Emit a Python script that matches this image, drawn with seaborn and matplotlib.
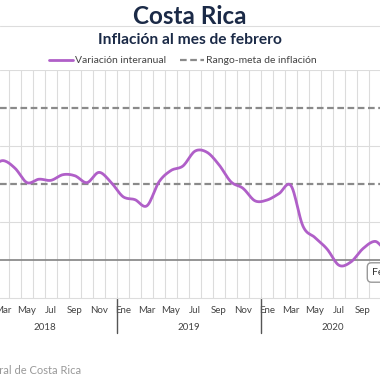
import numpy as np
import pandas as pd
import matplotlib
matplotlib.use("Agg")
import matplotlib.pyplot as plt
import seaborn as sns
from matplotlib.lines import Line2D
from matplotlib import transforms

# ---------------- data ----------------
month_abbr = ["Ene", "Feb", "Mar", "Abr", "May", "Jun",
              "Jul", "Ago", "Sep", "Oct", "Nov", "Dic"]
years = ["2018", "2019", "2020"]
infl_2018 = [2.50, 2.45, 2.61, 2.41, 2.03, 2.12, 2.09, 2.24, 2.21, 2.03, 2.30, 2.04]
infl_2019 = [1.66, 1.58, 1.42, 2.05, 2.35, 2.47, 2.86, 2.83, 2.50, 2.05, 1.88, 1.55]
infl_2020 = [1.57, 1.74, 1.95, 0.88, 0.58, 0.28, -0.15, -0.06, 0.29, 0.48, 0.30, 0.89]
infl_2021 = [0.55, 0.61]
target_low = 2.0
target_high = 4.0

values = infl_2018 + infl_2019 + infl_2020 + infl_2021
t_pos = np.arange(len(values)) + 0.5
df = pd.DataFrame({"t": t_pos, "v": values})

# smooth (Catmull-Rom) rendering of the monthly series
def smooth(x, y, n=12):
    xs, ys = [], []
    m = len(y)
    for i in range(m - 1):
        p0 = y[max(i - 1, 0)]; p1 = y[i]; p2 = y[i + 1]; p3 = y[min(i + 2, m - 1)]
        s = np.linspace(0, 1, n, endpoint=False)
        ys.extend(0.5 * (2 * p1 + (-p0 + p2) * s + (2 * p0 - 5 * p1 + 4 * p2 - p3) * s ** 2
                         + (-p0 + 3 * p1 - 3 * p2 + p3) * s ** 3))
        xs.extend(x[i] + (x[i + 1] - x[i]) * s)
    xs.append(x[-1]); ys.append(y[-1])
    return pd.DataFrame({"t": xs, "v": ys})

sm = smooth(df["t"].to_numpy(), df["v"].to_numpy())

# ---------------- style ----------------
sns.set_style("white")
plt.rcParams["font.family"] = ["Lato", "DejaVu Sans"]

W = H = 380.0
fig = plt.figure(figsize=(3.8, 3.8), dpi=100)
bottom_px, top_px = 297.5, 70.0
ax = fig.add_axes([0, 1 - bottom_px / H, 1, (bottom_px - top_px) / H])
x0 = 2.25
x1 = x0 + W / 12.0

purple = "#b05fc8"
sns.lineplot(data=sm, x="t", y="v", color=purple, lw=2.0, ax=ax,
             sort=False, estimator=None, zorder=3)

grid_c = "#dcdcdc"
for x in range(2, 35):
    ax.axvline(x, color=grid_c, lw=0.8, zorder=0)
for y in [1, 3, 5]:
    ax.axhline(y, color=grid_c, lw=0.8, zorder=0)
ax.axhline(0, color="#8c8c8c", lw=1.3, zorder=1)
for y in [target_low, target_high]:
    ax.axhline(y, color="#8a8a8a", lw=1.6, dashes=(3, 1.6), zorder=1)

for sp in ["top", "left", "right"]:
    ax.spines[sp].set_visible(False)
ax.spines["bottom"].set_color("#dddddd")
ax.spines["bottom"].set_linewidth(0.8)
ax.set_xlabel("")
ax.set_ylabel("")
ax.set_yticks([])

tick_idx = [i for i in range(0, 38, 2) if x0 <= i + 0.5 <= x1]
ax.set_xticks([i + 0.5 for i in tick_idx])
ax.set_xticklabels([month_abbr[i % 12] for i in tick_idx])
ax.tick_params(axis="x", length=0, pad=6.0, labelsize=7, labelcolor="#444444")

ax.set_xlim(x0, x1)
ax.set_ylim(-1, 5)

blend = transforms.blended_transform_factory(ax.transData, ax.transAxes)
ah = bottom_px - top_px
for k, yr in enumerate(years):
    ax.text(12 * k + 6, -(327 - bottom_px) / ah, yr, transform=blend,
            ha="center", va="center", fontsize=7, color="#444444", clip_on=False)
for k in range(1, 3):
    ax.plot([12 * k, 12 * k], [0, -(333 - bottom_px) / ah], transform=blend,
            color="#555555", lw=1.0, clip_on=False)

# titles
navy = "#1b2a47"
fig.text(0.5, 1 - 16 / H, "Costa Rica", ha="center", va="center",
         fontsize=17.5, fontweight="bold", color=navy)
fig.add_artist(Line2D([0, 1], [1 - 25.5 / H, 1 - 25.5 / H], transform=fig.transFigure,
                      color="#dddddd", lw=0.8))
fig.text(190 / W, 1 - 39.5 / H, "Inflación al mes de febrero", ha="center", va="center",
         fontsize=11.2, fontweight="bold", color=navy)

# legend
handles = [Line2D([], [], color=purple, lw=2.0),
           Line2D([], [], color="#8a8a8a", lw=1.6, dashes=(3, 1.6))]
fig.legend(handles, ["Variación interanual", "Rango-meta de inflación"],
           loc="center", bbox_to_anchor=(183 / W, 1 - 60.7 / H), ncol=2,
           frameon=False, fontsize=7.5, handlelength=2.3, handletextpad=0.2,
           columnspacing=1.3, labelcolor="#444444")

# tooltip
fig.text(372.5 / W, 1 - 272.5 / H, "Feb 2021: 0,61", ha="left", va="center",
         fontsize=7.5, color="#333333",
         bbox=dict(boxstyle="round,pad=0.5,rounding_size=0.4", fc="white", ec="#999999", lw=1.0))

# source
fig.text(81 / W, 1 - 371 / H, "Fuente: Banco Central de Costa Rica", ha="right", va="center",
         fontsize=8, color="#999999")

fig.savefig("out.png", dpi=100)
